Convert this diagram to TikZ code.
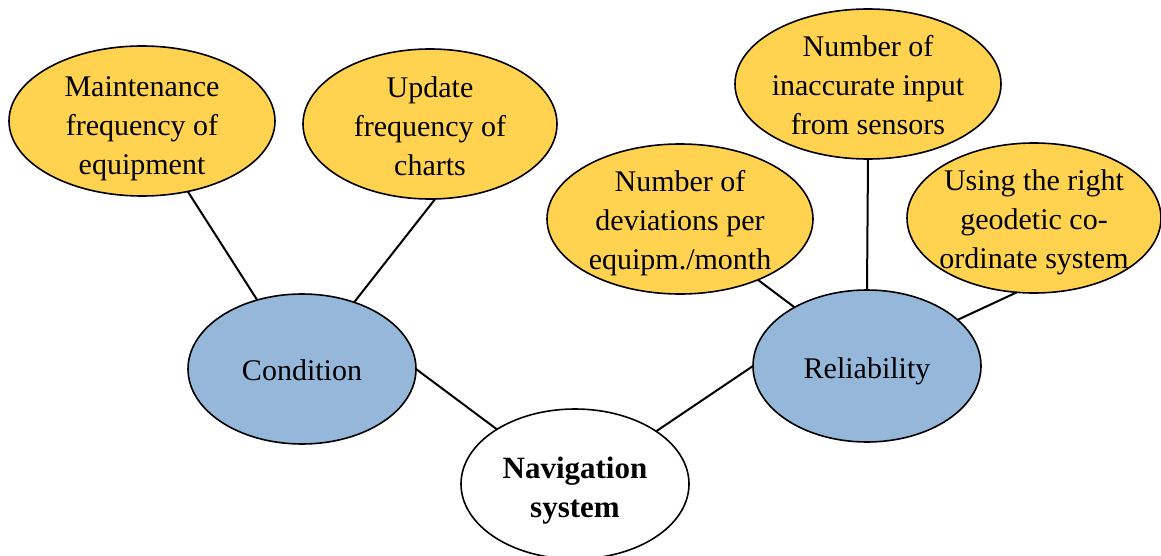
\documentclass[tikz,border=0pt]{standalone}
\usepackage{fontspec}
\setmainfont{Liberation Serif}
\usetikzlibrary{shapes.geometric}
\definecolor{leafgold}{RGB}{255,211,80}
\definecolor{groupblue}{RGB}{149,184,218}
% centred block of lines on strut rows, lowered by the optional amount
\newcommand\bubbletext[2][5.6pt]{%
  \raisebox{-#1}[0pt][0pt]{\begin{tabular}{@{}c@{}}#2\end{tabular}}}
\begin{document}
\begin{tikzpicture}[x=0.5pt,y=-0.5pt,
  bubble/.style={ellipse,draw=black,line width=0.8pt,inner sep=-60pt,outer sep=0pt,
    font=\fontsize{15}{19.5}\selectfont},
  leaf/.style={bubble,fill=leafgold},
  group/.style={bubble,fill=groupblue},
  root/.style={bubble,fill=white,font=\fontsize{15.5}{19.5}\selectfont\bfseries},
  link/.style={draw=black,line width=1pt}]
\useasboundingbox (0,0) rectangle (1161,556);

% outer criteria
\node[leaf,minimum width=133pt,minimum height=75pt] (maint) at (142,121)
  {\bubbletext[7pt]{Maintenance\\frequency of\\equipment}};
\node[leaf,minimum width=127pt,minimum height=75pt] (update) at (430,124)
  {\bubbletext[6pt]{Update\\frequency of\\charts}};
\node[leaf,minimum width=133pt,minimum height=75pt] (dev) at (680,219)
  {\bubbletext{Number of\\deviations per\\equipm./month}};
\node[leaf,minimum width=133pt,minimum height=75pt] (inacc) at (868,84)
  {\bubbletext{Number of\\inaccurate input\\from sensors}};
\node[leaf,minimum width=127pt,minimum height=75pt] (geo) at (1034,218)
  {\bubbletext{Using the right\\geodetic co-\\ordinate system}};

% groups
\node[group,minimum width=114pt,minimum height=75pt] (cond) at (302,369)
  {\bubbletext{Condition}};
\node[group,minimum width=114pt,minimum height=76pt] (rel) at (867,366)
  {\bubbletext[5.9pt]{Reliability}};

% root
\node[root,minimum width=114pt,minimum height=75pt] (nav) at (575,484)
  {\bubbletext[6.7pt]{Navigation\\system}};

% connectors
\path[link] (maint.-57) -- (cond.123);
\path[link] (update.-86) -- (cond.52);
\path[link] (cond.0) -- (nav.145);
\path[link] (nav.33) -- (rel.180);
\path[link] (dev.-38) -- (rel.141);
\path[link] (inacc.south) -- (rel.north);
\path[link] (geo.-103) -- (rel.27);
\end{tikzpicture}
\end{document}
